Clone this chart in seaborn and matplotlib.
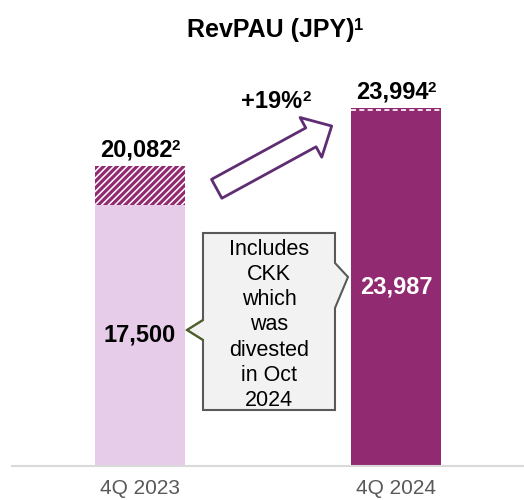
import matplotlib
matplotlib.use("Agg")
import matplotlib.pyplot as plt
import seaborn as sns
import numpy as np
from matplotlib.patches import Polygon, FancyArrowPatch
from matplotlib.lines import Line2D
import matplotlib.transforms as mtransforms

# ---- data ----
quarters = ["4Q 2023", "4Q 2024"]
reported = [17500, 23987]          # solid part
incl_ckk = [20082, 23994]          # total incl. CKK (hatched part)
total_note = ["2", "2"]
growth_label = "+19%"
growth_note = "2"
title = "RevPAU (JPY)"
title_note = "1"
callout = "Includes\nCKK\nwhich\nwas\ndivested\nin Oct\n2024"

LIGHT = "#E6CCE8"
DARK = "#912A70"
ARROW = "#5E2D72"

sns.set_theme(style="white")
plt.rcParams["font.family"] = ["Liberation Sans", "DejaVu Sans"]
plt.rcParams["hatch.linewidth"] = 1.1

W, H = 524, 500
fig = plt.figure(figsize=(W / 100, H / 100), dpi=100)
ax = fig.add_axes([12 / W, 34 / H, 1 - 12 / W, 416 / H])

# total bars (hatched layer for 2023)
sns.barplot(x=quarters, y=incl_ckk, ax=ax, palette=[DARK, DARK], hue=quarters,
            legend=False, width=0.35, linewidth=0, saturation=1)
for p in ax.patches:
    p.set_edgecolor("white")
    p.set_linewidth(0)
ax.patches[0].set_hatch("/////")
sns.barplot(x=quarters, y=reported, ax=ax, palette=[LIGHT, DARK], hue=quarters,
            legend=False, width=0.35, linewidth=0, saturation=1)

ax.set_xlim(-0.5, 1.5)
ax.set_ylim(0, 27845)
ax.set_ylabel("")
ax.set_xlabel("")
ax.set_yticks([])
for s in ["left", "right", "top"]:
    ax.spines[s].set_visible(False)
ax.spines["bottom"].set_color("#D9D9D9")
ax.spines["bottom"].set_linewidth(1.5)
ax.set_xticks([0, 1])
ax.set_xticklabels(quarters)
ax.tick_params(axis="x", which="major", length=0, pad=9, labelsize=15, labelcolor="#595959")
ax.set_xticks([-0.5, 0.5, 1.5], minor=True)
ax.tick_params(axis="x", which="minor", length=5, width=1.5, color="#D9D9D9", direction="out")

# dashed line at top of 2024 bar
bw = 0.35
off = mtransforms.offset_copy(ax.transData, fig=fig, x=0, y=-2, units="dots")
ax.plot([1 - bw / 2, 1 + bw / 2], [reported[1], reported[1]], color="white",
        lw=1.2, ls=(0, (3, 2)), transform=off)

renderer = fig.canvas.get_renderer()


def sup_text(cx, baseline, main, sup, size, supsize, color="black"):
    """cx, baseline in display pixels (origin bottom-left)."""
    t = fig.text(0, 0, main, fontsize=size, fontweight="bold", color=color,
                 ha="left", va="baseline", transform=None)
    s = fig.text(0, 0, sup, fontsize=supsize, fontweight="bold", color=color,
                 ha="left", va="top", transform=None)
    wm = t.get_window_extent(renderer).width
    ws = s.get_window_extent(renderer).width
    gap = -0.5
    left = cx - (wm + ws + gap) / 2
    t.set_position((left, baseline))
    cap = 0.716 * size * 100 / 72
    s.set_position((left + wm + gap, baseline + cap + 1))


# labels on totals
for i in range(2):
    x, y = ax.transData.transform((i, incl_ckk[i]))
    sup_text(x, y + 9, f"{incl_ckk[i]:,}", total_note[i], 17, 11)
ax.text(0, reported[0] / 2, f"{reported[0]:,}", ha="center", va="center",
        fontsize=17, fontweight="bold", color="black")
ax.text(1, reported[1] / 2, f"{reported[1]:,}", ha="center", va="center",
        fontsize=17, fontweight="bold", color="white")


# growth arrow (figure pixel coords)
def fp(x, y):
    return (x / W, 1 - y / H)

arr = FancyArrowPatch(fp(216.7, 188.8), fp(331.7, 126), transform=fig.transFigure,
                      arrowstyle="simple,head_length=1.1,head_width=2.1,tail_width=1.0",
                      mutation_scale=15.5, facecolor="white", edgecolor=ARROW,
                      lw=2, shrinkA=0, shrinkB=0)
fig.add_artist(arr)
sup_text(276, H - 108, growth_label, growth_note, 17, 11)

# callout box
pts = [(203, 233), (335, 233), (335, 263), (348, 277), (335, 308), (335, 410),
       (203, 410), (203, 340), (187, 330), (203, 320)]
poly = Polygon([fp(x, y) for x, y in pts], closed=True, transform=fig.transFigure,
               facecolor="#F2F2F2", edgecolor="#595959", lw=1.5)
fig.add_artist(poly)
fig.add_artist(Line2D([203 / W, 187 / W, 203 / W], [1 - 320 / H, 1 - 330 / H, 1 - 340 / H],
                      transform=fig.transFigure, color="#4F6228", lw=1.5))
fig.text(*fp(269, 325), callout, ha="center", va="center", fontsize=15.5,
         color="black", linespacing=1.27)

sup_text(275, H - 37, title, title_note, 18, 12)

fig.savefig("out.png", dpi=100)
